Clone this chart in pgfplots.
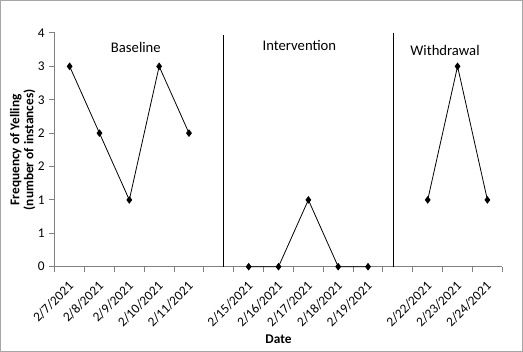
\documentclass[border=0pt]{standalone}
\usepackage{pgfplots}
\pgfplotsset{compat=1.18}
\usepackage{fontspec}
\setmainfont{Carlito}
\begin{document}
\begin{tikzpicture}
\useasboundingbox (0,0) rectangle (392.25pt,264pt);
\draw[gray!70, line width=0.75pt] (0.375pt,0.375pt) rectangle (391.875pt,263.625pt);
\begin{axis}[
  at={(41.03pt,63.98pt)}, anchor=south west,
  scale only axis, width=335.7pt, height=175.3pt,
  xmin=-0.5, xmax=14.5, ymin=0, ymax=3.5,
  axis x line=bottom, axis y line=left,
  axis line style={draw=gray, -, line width=0.75pt},
  xtick={0,...,14},
  xticklabels={2/7/2021,2/8/2021,2/9/2021,2/10/2021,2/11/2021,,2/15/2021,2/16/2021,2/17/2021,2/18/2021,2/19/2021,,2/22/2021,2/23/2021,2/24/2021},
  major x tick style={draw=none},
  minor xtick={-0.5,0.5,...,14.5},
  minor x tick style={draw=gray, line width=0.75pt},
  minor tick length=4pt,
  major tick length=4pt,
  tick align=outside,
  ytick={0,0.5,...,3.5},
  yticklabels={0,1,1,2,2,3,3,4},
  y tick style={draw=gray, line width=0.75pt},
  xticklabel shift=8pt,
  xticklabel style={xshift=2pt, rotate=45, anchor=east, font=\fontsize{10}{12}\selectfont, inner sep=1pt},
  yticklabel style={font=\fontsize{10}{12}\selectfont},
  xlabel={\textbf{Date}},
  xlabel style={font=\fontsize{10}{12}\selectfont},
  ylabel={\textbf{Frequency of Yelling}\\\textbf{(number of instances)}},
  ylabel style={align=center, font=\fontsize{10}{10.5}\selectfont},
  ylabel shift=-5pt,
  clip=false,
]
\addplot[black, line width=0.6pt, mark=diamond*, mark size=2.4pt] coordinates {(0,3) (1,2) (2,1) (3,3) (4,2)};
\addplot[black, line width=0.6pt, mark=diamond*, mark size=2.4pt] coordinates {(6,0) (7,0) (8,1) (9,0) (10,0)};
\addplot[black, line width=0.6pt, mark=diamond*, mark size=2.4pt] coordinates {(12,1) (13,3) (14,1)};
\draw[black, line width=0.9pt] (axis cs:5.15,0) -- (axis cs:5.15,3.47);
\draw[black, line width=0.9pt] (axis cs:10.85,0) -- (axis cs:10.85,3.5);
\node[font=\fontsize{11}{13}\selectfont] at (axis cs:2.22,3.29) {Baseline};
\node[font=\fontsize{11}{13}\selectfont] at (axis cs:7.70,3.305) {Intervention};
\node[font=\fontsize{11}{13}\selectfont] at (axis cs:12.58,3.245) {Withdrawal};
\end{axis}
\end{tikzpicture}
\end{document}
